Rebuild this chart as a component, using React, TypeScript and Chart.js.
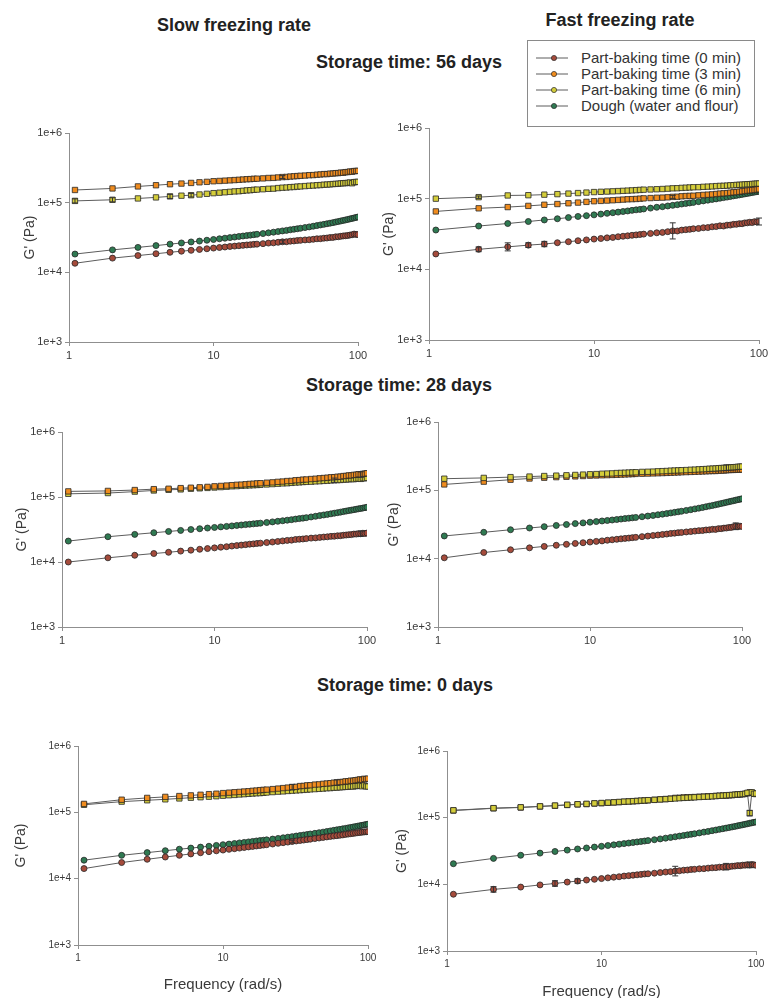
import React, { useEffect, useRef } from 'react';
import { Chart, registerables } from 'chart.js';

Chart.register(...registerables);
Chart.defaults.font.family = "'Liberation Sans', Arial, sans-serif";

// Frequencies (rad/s) shared by every series
const FREQ = [1.1, 2, 3, 4, 5, 6, 7, 8, 9, 10,
  11, 12, 13, 14, 15, 16, 17, 18, 19, 20,
  22, 24, 26, 28, 30, 32, 34, 36, 38, 40,
  43, 46, 49, 52, 55, 58, 61, 64, 67, 70,
  73, 76, 79, 82, 85, 88, 91, 94, 97, 100];

const X_TICKS = [1, 10, 100];
const X_TICK_LABELS = ['1', '10', '100'];
const Y_TICKS = [1e3, 1e4, 1e5, 1e6];
const Y_TICK_LABELS = ['1e+3', '1e+4', '1e+5', '1e+6'];

const SERIES_NAMES = ['Part-baking time (0 min)', 'Part-baking time (3 min)', 'Part-baking time (6 min)', 'Dough (water and flour)'];
const SERIES_COLORS = ['#a54b3b', '#f08c1e', '#d4cd3a', '#2f7a52'];

// G' values in kPa
const SLOW56_PB0 = [13.5, 16.0, 17.4, 18.5, 19.4, 20.1, 20.7, 21.3, 21.8, 22.3, 22.7, 23.1, 23.5, 23.8, 24.1, 24.4, 24.7, 24.9, 25.2, 25.4, 25.8, 26.3, 26.5, 27.0, 27.4, 27.5, 28.0, 28.2, 28.6, 28.8, 29.2, 29.4, 29.8, 30.3, 30.4, 30.9, 31.1, 31.6, 31.7, 32.3, 32.4, 32.9, 33.3, 33.5, 33.8, 34.3, 34.6, 35.4, 35.0, 34.8];
const SLOW56_PB3 = [152, 160, 171, 178, 184, 188, 192, 196, 199, 203, 205, 207, 209, 211, 213, 215, 217, 218, 220, 221, 223, 226, 227, 230, 233, 234, 237, 239, 241, 243, 245, 248, 249, 252, 254, 257, 257, 261, 262, 265, 266, 270, 269, 274, 275, 280, 278, 284, 285, 286];
const SLOW56_PB6 = [106, 110, 115, 119, 123, 126, 128, 131, 134, 137, 139, 141, 143, 145, 146, 148, 150, 151, 153, 154, 156, 158, 159, 162, 164, 165, 167, 168, 170, 171, 173, 175, 176, 178, 179, 181, 182, 183, 185, 186, 187, 189, 190, 191, 192, 195, 190, 197, 198, 199];
const SLOW56_DOUGH = [18.3, 21.0, 22.8, 24.2, 25.4, 26.4, 27.3, 28.1, 28.9, 29.6, 30.3, 30.9, 31.5, 32.1, 32.7, 33.2, 33.7, 34.2, 34.7, 35.2, 36.0, 36.9, 37.7, 38.5, 39.3, 40.0, 40.8, 41.5, 42.2, 42.9, 43.9, 44.9, 45.9, 46.9, 47.9, 48.8, 49.8, 50.7, 51.7, 52.7, 53.6, 54.6, 55.6, 56.5, 57.5, 58.5, 59.4, 60.4, 61.3, 62.3];

const FAST56_PB0 = [16.5, 19.2, 20.8, 22.0, 22.8, 23.8, 24.6, 25.4, 26.1, 26.8, 27.3, 27.9, 28.3, 28.9, 29.4, 29.8, 30.3, 30.7, 31.1, 31.5, 32.2, 32.9, 33.3, 34.1, 35.0, 34.9, 35.9, 36.4, 36.8, 37.5, 37.9, 38.8, 39.0, 40.0, 40.3, 41.3, 41.0, 42.2, 42.3, 43.3, 43.4, 44.3, 44.2, 45.4, 45.5, 46.4, 45.9, 47.3, 46.8, 47.5];
const FAST56_PB3 = [66, 73, 76, 79, 82, 84, 86, 88, 90, 92, 93, 94, 95, 96, 97, 98, 98.5, 99, 100, 101, 102, 103, 103.5, 104.5, 106, 106.5, 108, 109, 109.5, 110, 111.5, 113, 114, 115, 116.5, 118, 119, 120, 121.5, 123, 124, 125.5, 127, 128.5, 130, 131, 132, 133, 134.5, 136];
const FAST56_PB6 = [100, 105, 111, 112, 114, 116, 118, 120, 122, 124, 125, 126, 127, 128, 129, 130, 131, 132, 133, 134, 135, 136, 137, 138.5, 140, 140.5, 142, 143, 144, 145, 145.5, 147, 148, 149, 150.5, 151.5, 152, 153, 154.5, 155, 156.5, 157, 158, 159, 160, 160.5, 161.5, 162.5, 163.5, 164];
const FAST56_DOUGH = [36, 41, 44.5, 47.5, 50, 52, 54, 56, 57.5, 59, 60.5, 62, 63.3, 64.5, 65.8, 67, 68.3, 69.5, 70.5, 71.5, 73.5, 75.5, 77, 78.8, 80.5, 82.2, 84, 85.5, 87, 88.5, 90.8, 93, 95.3, 97.5, 99.3, 101.5, 103.5, 105.3, 107.3, 109.5, 111.3, 113, 115, 116.8, 118.5, 120.3, 122, 123.8, 125.5, 127];

const SLOW28_PB0 = [10.0, 11.6, 12.7, 13.5, 14.1, 14.7, 15.2, 15.7, 16.1, 16.5, 16.9, 17.2, 17.6, 17.9, 18.2, 18.5, 18.8, 19.0, 19.3, 19.5, 19.9, 20.3, 20.7, 21.1, 21.5, 21.7, 22.2, 22.4, 22.6, 22.9, 23.3, 23.5, 23.9, 24.2, 24.4, 24.8, 24.9, 25.3, 25.4, 25.8, 26.0, 26.3, 26.4, 26.9, 26.9, 27.3, 27.2, 27.7, 27.5, 27.9];
const SLOW28_PB3 = [122, 124, 128, 132, 134, 137, 139, 141, 143, 146, 148, 150, 152, 154, 155, 157, 159, 160, 162, 163, 166, 168, 171, 173, 176, 177, 181, 182, 185, 186, 189, 191, 194, 196, 198, 201, 202, 205, 206, 210, 211, 215, 215, 219, 220, 224, 222, 227, 229, 232];
const SLOW28_PB6 = [112, 115, 121, 126, 129, 131, 134, 136, 138, 140, 142, 144, 146, 147, 149, 150, 151, 152, 153, 154, 156, 158, 160, 162, 163, 165, 167, 168, 170, 171, 172, 174, 175, 177, 178, 180, 181, 182, 183, 185, 186, 187, 189, 188, 191, 192, 190, 195, 194, 197];
const SLOW28_DOUGH = [21.0, 24.5, 26.6, 28.2, 29.5, 30.6, 31.6, 32.5, 33.3, 34.0, 34.7, 35.3, 35.9, 36.5, 37.1, 37.6, 38.1, 38.6, 39.1, 39.6, 40.5, 41.4, 42.3, 43.1, 44.0, 44.8, 45.7, 46.5, 47.3, 48.1, 49.3, 50.5, 51.7, 52.9, 54.0, 55.1, 56.3, 57.4, 58.5, 59.6, 60.7, 61.8, 62.8, 63.8, 64.8, 65.8, 66.7, 67.6, 68.6, 69.5];

const FAST28_PB0 = [10.3, 12.3, 13.5, 14.4, 15.1, 15.7, 16.2, 16.7, 17.1, 17.5, 17.9, 18.2, 18.6, 18.9, 19.2, 19.5, 19.8, 20.0, 20.3, 20.5, 21.0, 21.4, 21.8, 22.2, 22.6, 22.9, 23.4, 23.6, 24.0, 24.2, 24.6, 24.9, 25.3, 25.7, 25.8, 26.3, 26.4, 26.9, 26.8, 27.5, 27.5, 28.0, 28.1, 28.6, 28.7, 29.4, 29.8, 29.4, 29.9, 29.6];
const FAST28_PB3 = [122, 134, 143, 149, 153, 156, 158, 160, 162, 164, 165, 166, 167, 168, 169, 170, 171, 172, 173, 174, 175, 176, 177, 178, 179, 180, 181, 182, 183, 184, 185, 186, 187, 188, 189, 190, 191, 192, 192, 194, 195, 195, 197, 198, 199, 199, 200, 201, 201, 202];
const FAST28_PB6 = [148, 152, 156, 159, 162, 164, 166, 168, 170, 172, 173, 175, 176, 177, 179, 180, 181, 182, 183, 184, 186, 187, 188, 190, 191, 192, 194, 195, 196, 197, 198, 200, 201, 203, 204, 205, 207, 208, 209, 211, 212, 213, 214, 216, 217, 218, 219, 221, 222, 223];
const FAST28_DOUGH = [21.5, 24.3, 26.5, 28.1, 29.4, 30.6, 31.6, 32.6, 33.4, 34.2, 34.9, 35.6, 36.2, 36.8, 37.4, 38.0, 38.6, 39.1, 39.6, 40.1, 41.1, 42.0, 42.9, 43.9, 44.8, 45.7, 46.7, 47.6, 48.5, 49.4, 50.8, 52.1, 53.5, 54.8, 56.1, 57.5, 58.8, 60.1, 61.4, 62.8, 64.1, 65.4, 66.7, 68.0, 69.3, 70.5, 71.8, 73.0, 74.1, 75.2];

const SLOW0_PB0 = [14.2, 17.5, 19.6, 21.2, 22.5, 23.6, 24.6, 25.5, 26.3, 27.0, 27.7, 28.3, 28.9, 29.5, 30.1, 30.6, 31.1, 31.6, 32.1, 32.5, 33.3, 34.1, 34.9, 35.6, 36.3, 37.0, 37.6, 38.2, 38.8, 39.4, 40.2, 41.0, 41.8, 42.6, 43.3, 43.9, 44.5, 45.1, 45.7, 46.5, 47.0, 47.6, 48.1, 48.7, 49.3, 49.7, 50.2, 50.6, 50.9, 51.2];
const SLOW0_PB3 = [134, 155, 165, 171, 176, 180, 184, 188, 191, 195, 198, 201, 203, 206, 208, 211, 213, 216, 218, 220, 224, 228, 232, 236, 240, 242, 249, 250, 255, 256, 262, 264, 269, 272, 275, 280, 281, 286, 287, 293, 294, 300, 299, 305, 308, 314, 310, 320, 317, 322];
const SLOW0_PB6 = [130, 145, 152, 157, 162, 166, 169, 172, 175, 178, 181, 183, 186, 188, 190, 192, 194, 195, 197, 199, 202, 205, 207, 210, 212, 214, 216, 218, 220, 222, 224, 226, 228, 231, 232, 235, 236, 238, 240, 242, 243, 246, 245, 249, 250, 252, 247, 254, 246, 245];
const SLOW0_DOUGH = [19.0, 22.5, 24.7, 26.4, 27.8, 28.9, 29.9, 30.8, 31.7, 32.5, 33.2, 33.9, 34.6, 35.2, 35.8, 36.4, 37.0, 37.5, 38.0, 38.5, 39.5, 40.4, 41.3, 42.2, 43.0, 43.9, 44.7, 45.5, 46.3, 47.1, 48.2, 49.3, 50.3, 51.4, 52.4, 53.5, 54.5, 55.4, 56.4, 57.3, 58.3, 59.2, 60.1, 61.0, 61.9, 62.8, 63.7, 64.6, 65.5, 66.3];

const FAST0_PB0 = [7.1, 8.4, 9.1, 9.8, 10.3, 10.8, 11.2, 11.6, 11.9, 12.2, 12.5, 12.8, 13.0, 13.3, 13.5, 13.7, 13.9, 14.1, 14.3, 14.4, 14.7, 15.0, 15.3, 15.5, 15.8, 16.0, 16.3, 16.4, 16.7, 16.8, 17.1, 17.2, 17.5, 17.7, 17.8, 18.1, 18.1, 18.4, 18.4, 18.7, 18.8, 19.1, 19.0, 19.4, 19.4, 19.7, 19.5, 19.8, 19.6, 19.3];
const FAST0_PB3 = [128, 138, 142, 147, 151, 155, 158, 160, 163, 165, 167, 169, 171, 173, 175, 176, 178, 179, 181, 182, 185, 188, 190, 193, 198, 199, 201, 202, 203, 204, 206, 207, 209, 210, 212, 213, 214, 215, 217, 218, 220, 222, 224, 225, 227, 232, 240, 236, 230, 226];
const FAST0_PB6 = [129, 139, 143, 148, 152, 156, 159, 161, 164, 166, 168, 170, 172, 174, 175, 177, 178, 180, 181, 183, 185, 188, 190, 192, 194, 196, 198, 199, 201, 202, 204, 206, 207, 209, 211, 213, 214, 216, 218, 219, 221, 223, 224, 226, 228, 236, 117, 240, 228, 230];
const FAST0_DOUGH = [20.4, 24.5, 27.3, 29.4, 31.1, 32.6, 33.9, 35.1, 36.2, 37.2, 38.2, 39.1, 40.0, 40.8, 41.6, 42.4, 43.2, 43.9, 44.6, 45.3, 46.7, 48.0, 49.3, 50.5, 51.7, 52.9, 54.1, 55.2, 56.3, 57.4, 59.1, 60.7, 62.2, 63.8, 65.3, 66.8, 68.3, 69.7, 71.1, 72.6, 74.0, 75.4, 76.8, 78.2, 79.6, 81.0, 82.4, 83.7, 85.0, 86.3];

// error bars: [series index, point index, relative error]
const SLOW56_ERR = [[2, 0, 0.07], [2, 1, 0.07], [2, 4, 0.07], [2, 6, 0.06], [1, 24, 0.05], [0, 24, 0.06]];
const FAST56_ERR = [[0, 1, 0.08], [0, 2, 0.14], [0, 3, 0.08], [0, 4, 0.09], [0, 24, 0.3], [0, 49, 0.12], [2, 1, 0.04], [1, 24, 0.05]];
const SLOW28_ERR = [[1, 46, 0.1], [2, 36, 0.08], [0, 46, 0.1]];
const FAST28_ERR = [[2, 42, 0.1], [0, 46, 0.12]];
const SLOW0_ERR = [[1, 24, 0.1], [1, 36, 0.1], [0, 24, 0.05]];
const FAST0_ERR = [[0, 1, 0.1], [0, 4, 0.1], [0, 6, 0.08], [0, 24, 0.18], [0, 37, 0.12], [0, 46, 0.1], [2, 46, 0.1]];

type PanelCfg = {
  L: number; R: number; T: number; B: number;
  yTitleOffset: number; xTitle: boolean; xh: number; tickFont: number;
  series: number[][]; errors: number[][]; order: number[];
};

// order: lower value is drawn on top
const PANELS: PanelCfg[] = [
  { L: 69, R: 358, T: 133, B: 342, yTitleOffset: 39, xTitle: false, xh: 24, tickFont: 11, series: [SLOW56_PB0, SLOW56_PB3, SLOW56_PB6, SLOW56_DOUGH], errors: SLOW56_ERR, order: [0, 1, 2, 3] },
  { L: 429, R: 759, T: 128, B: 340, yTitleOffset: 40, xTitle: false, xh: 24, tickFont: 11, series: [FAST56_PB0, FAST56_PB3, FAST56_PB6, FAST56_DOUGH], errors: FAST56_ERR, order: [0, 1, 2, 3] },
  { L: 62, R: 367, T: 432, B: 627, yTitleOffset: 40, xTitle: false, xh: 24, tickFont: 11, series: [SLOW28_PB0, SLOW28_PB3, SLOW28_PB6, SLOW28_DOUGH], errors: SLOW28_ERR, order: [0, 1, 2, 3] },
  { L: 438, R: 742, T: 422, B: 627, yTitleOffset: 44, xTitle: false, xh: 24, tickFont: 11, series: [FAST28_PB0, FAST28_PB3, FAST28_PB6, FAST28_DOUGH], errors: FAST28_ERR, order: [0, 2, 1, 3] },
  { L: 78, R: 368, T: 746, B: 945, yTitleOffset: 57, xTitle: true, xh: 51, tickFont: 10, series: [SLOW0_PB0, SLOW0_PB3, SLOW0_PB6, SLOW0_DOUGH], errors: SLOW0_ERR, order: [0, 1, 2, 3] },
  { L: 447, R: 756, T: 751, B: 951, yTitleOffset: 45, xTitle: true, xh: 52, tickFont: 10, series: [FAST0_PB0, FAST0_PB3, FAST0_PB6, FAST0_DOUGH], errors: FAST0_ERR, order: [0, 2, 1, 3] },
];

const PAD_TOP = 12;
const PAD_RIGHT = 15;

const errorBarsPlugin = {
  id: 'errorBars',
  afterDatasetsDraw(chart: any, _args: any, opts: any) {
    const items: number[][] = opts.items || [];
    const ctx = chart.ctx;
    const ys = chart.scales.y;
    ctx.save();
    ctx.strokeStyle = '#333';
    ctx.lineWidth = 1;
    items.forEach(([s, i, rel]) => {
      const meta = chart.getDatasetMeta(s);
      const pt = meta.data[i];
      if (!pt) return;
      const v = chart.data.datasets[s].data[i].y;
      const y1 = ys.getPixelForValue(v * (1 + rel));
      const y2 = ys.getPixelForValue(v / (1 + rel));
      const x = pt.x;
      ctx.beginPath();
      ctx.moveTo(x, y1); ctx.lineTo(x, y2);
      ctx.moveTo(x - 3, y1); ctx.lineTo(x + 3, y1);
      ctx.moveTo(x - 3, y2); ctx.lineTo(x + 3, y2);
      ctx.stroke();
    });
    ctx.restore();
  },
};

function Panel({ cfg }: { cfg: PanelCfg }) {
  const ref = useRef<HTMLCanvasElement>(null);
  const yw = cfg.yTitleOffset + 10;
  const w = yw + (cfg.R - cfg.L) + PAD_RIGHT;
  const h = PAD_TOP + (cfg.B - cfg.T) + cfg.xh;
  const left = cfg.L - yw;
  const top = cfg.T - PAD_TOP;

  useEffect(() => {
    if (!ref.current) return;
    const axisColor = '#8f8f8f';
    const tickColor = '#3a3a3a';
    const chart = new Chart(ref.current, {
      type: 'scatter',
      data: {
        datasets: cfg.series.map((vals, s) => ({
          label: SERIES_NAMES[s],
          data: FREQ.map((f, i) => ({ x: f, y: vals[i] * 1000 })),
          order: cfg.order[s],
          showLine: true,
          borderColor: '#5c5c5c',
          borderWidth: 1,
          backgroundColor: SERIES_COLORS[s],
          pointBackgroundColor: SERIES_COLORS[s],
          pointBorderColor: '#262626',
          pointBorderWidth: 0.8,
          pointRadius: s === 1 || s === 2 ? 3.8 : 3,
          pointStyle: s === 1 || s === 2 ? 'rect' : 'circle',
          tension: 0,
        })),
      },
      options: {
        responsive: false,
        animation: false,
        devicePixelRatio: 1,
        layout: { padding: { top: PAD_TOP, right: PAD_RIGHT, left: 0, bottom: 0 } },
        plugins: {
          legend: { display: false },
          tooltip: { enabled: false },
          errorBars: { items: cfg.errors },
        } as any,
        scales: {
          x: {
            type: 'logarithmic',
            min: 1,
            max: 100,
            afterBuildTicks: (sc: any) => { sc.ticks = X_TICKS.map((v) => ({ value: v })); },
            afterFit: (sc: any) => { sc.height = cfg.xh; },
            ticks: {
              autoSkip: false,
              maxRotation: 0,
              padding: 3,
              color: tickColor,
              font: { size: cfg.tickFont },
              callback: (_v: any, i: number) => X_TICK_LABELS[i],
            },
            grid: { display: true, drawOnChartArea: false, drawTicks: true, tickLength: 4, color: axisColor },
            border: { display: true, color: axisColor, width: 1 },
            title: {
              display: cfg.xTitle,
              text: 'Frequency (rad/s)',
              color: '#3a3a3a',
              font: { size: 15 },
              padding: { top: 0, bottom: 2 },
            },
          },
          y: {
            type: 'logarithmic',
            min: 1000,
            max: 1000000,
            afterBuildTicks: (sc: any) => { sc.ticks = Y_TICKS.map((v) => ({ value: v })); },
            afterFit: (sc: any) => { sc.width = yw; },
            ticks: {
              autoSkip: false,
              padding: 3,
              color: tickColor,
              font: { size: cfg.tickFont },
              callback: (_v: any, i: number) => Y_TICK_LABELS[i],
            },
            grid: { display: true, drawOnChartArea: false, drawTicks: true, tickLength: 4, color: axisColor },
            border: { display: true, color: axisColor, width: 1 },
            title: {
              display: true,
              text: "G' (Pa)",
              color: '#3a3a3a',
              font: { size: 14 },
              padding: { top: 2, bottom: 0 },
            },
          },
        },
      } as any,
      plugins: [errorBarsPlugin],
    });
    return () => chart.destroy();
  }, []);

  return (
    <canvas
      ref={ref}
      width={w}
      height={h}
      style={{ position: 'absolute', left, top, width: w, height: h }}
    />
  );
}

const TITLES = [
  { text: 'Slow freezing rate', x: 234, y: 25 },
  { text: 'Fast freezing rate', x: 620, y: 20 },
  { text: 'Storage time: 56 days', x: 409, y: 62 },
  { text: 'Storage time: 28 days', x: 399, y: 385 },
  { text: 'Storage time: 0 days', x: 405, y: 685 },
];

function Legend() {
  const rowY = [17, 33, 49, 65];
  return (
    <div
      style={{
        position: 'absolute', left: 527, top: 40, width: 228, height: 87,
        border: '1px solid #8a8a8a', background: '#fff', boxSizing: 'border-box',
      }}
    >
      {SERIES_NAMES.map((name, i) => (
        <div key={name} style={{ position: 'absolute', left: 0, top: rowY[i] - 10, height: 20, width: 226 }}>
          <svg width={50} height={20} style={{ position: 'absolute', left: 0, top: 0 }}>
            <line x1={8} y1={10} x2={40} y2={10} stroke="#5c5c5c" strokeWidth={1} />
            <circle cx={26} cy={10} r={2.6} fill={SERIES_COLORS[i]} stroke="#2a2a2a" strokeWidth={0.7} />
          </svg>
          <span
            style={{
              position: 'absolute', left: 53, top: 0, lineHeight: '20px',
              fontSize: 15, color: '#333', whiteSpace: 'nowrap',
              fontFamily: "'Liberation Sans', Arial, sans-serif",
            }}
          >
            {name}
          </span>
        </div>
      ))}
    </div>
  );
}

export default function App() {
  return (
    <div
      style={{
        position: 'absolute', left: 0, top: 0, width: 768, height: 998,
        overflow: 'hidden', background: '#fff',
        fontFamily: "'Liberation Sans', Arial, sans-serif",
      }}
    >
      {PANELS.map((p, i) => <Panel key={i} cfg={p} />)}
      {TITLES.map((t) => (
        <div
          key={t.text}
          style={{
            position: 'absolute', left: t.x, top: t.y, transform: 'translate(-50%, -50%)',
            fontWeight: 'bold', fontSize: 18, color: '#222', whiteSpace: 'nowrap',
          }}
        >
          {t.text}
        </div>
      ))}
      <Legend />
    </div>
  );
}
